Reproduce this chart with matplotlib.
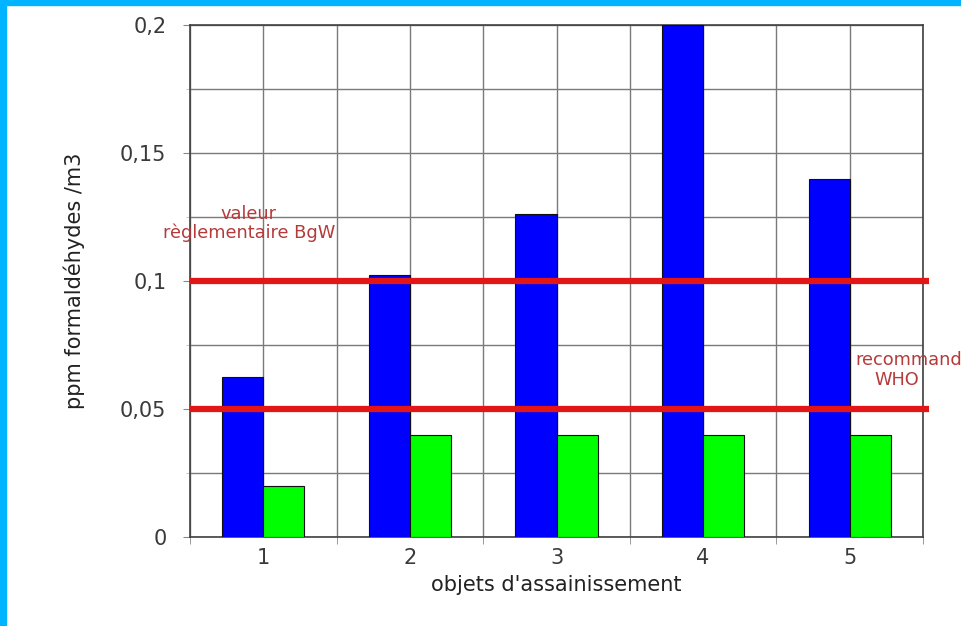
from matplotlib import pyplot as plt
from matplotlib.ticker import FuncFormatter, MultipleLocator
import numpy as np

# Data
objects = [1, 2, 3, 4, 5]
measured = [0.0625, 0.1025, 0.126, 0.2, 0.14]
after = [0.02, 0.04, 0.04, 0.04, 0.04]
limit_bgw = 0.1
limit_who = 0.05

W, H = 961, 626
fig = plt.figure(figsize=(W / 100, H / 100), dpi=100)
fig.patch.set_facecolor("white")

# Blue frame on the top and left edge
fig.patches.append(plt.Rectangle((0, 1 - 5 / H), 1, 5 / H, transform=fig.transFigure,
                                 color="#00b4ff", zorder=0))
fig.patches.append(plt.Rectangle((0, 0), 6 / W, 1, transform=fig.transFigure,
                                 color="#00b4ff", zorder=0))

ax = fig.add_axes([190 / W, (H - 537) / H, (923 - 190) / W, (537 - 25) / H])

x = np.array(objects)
bw = 0.28
ax.bar(x - bw / 2, measured, width=bw, color="#0000ff", edgecolor="#101010",
       linewidth=0.8, zorder=3)
ax.bar(x + bw / 2, after, width=bw, color="#00ff00", edgecolor="#101010",
       linewidth=0.8, zorder=3)

# Limit lines (run a bit past the right spine)
for lv in (limit_bgw, limit_who):
    ax.plot([0.5, 5.54], [lv, lv], color="#e31515", linewidth=4.5, zorder=4,
            clip_on=False, solid_capstyle="butt")

red_txt = "#b53a3a"
ax.text(0.9, 0.1225, "valeur\nrèglementaire BgW", color=red_txt, fontsize=12.8,
        ha="center", va="center", linespacing=1.05, zorder=5)
ax.text(5.036, 0.0691, "recommand", color=red_txt, fontsize=12.8, ha="left",
        va="center", clip_on=False, zorder=5)
ax.text(5.17, 0.0613, "WHO", color=red_txt, fontsize=12.8, ha="left",
        va="center", clip_on=False, zorder=5)

# Axes and grid
ax.set_xlim(0.5, 5.5)
ax.set_ylim(0, 0.2)
ax.set_xticks(objects)
ax.xaxis.set_minor_locator(MultipleLocator(1, offset=0.5))
ax.yaxis.set_major_locator(MultipleLocator(0.05))
ax.yaxis.set_minor_locator(MultipleLocator(0.025))
ax.yaxis.set_major_formatter(FuncFormatter(lambda v, p: ("%g" % round(v, 3)).replace(".", ",")))
ax.grid(which="both", color="#7a7a7a", linewidth=1.0, zorder=0)
ax.set_axisbelow(True)
ax.tick_params(axis="x", which="major", length=0, pad=8, labelsize=15, labelcolor="#3a3a3a")
ax.tick_params(axis="x", which="minor", length=5, color="#888888")
ax.tick_params(axis="y", which="major", length=5, pad=12, labelsize=15,
               labelcolor="#3a3a3a", color="#888888")
ax.tick_params(axis="y", which="minor", length=3, color="#bbbbbb")
for s in ax.spines.values():
    s.set_color("#404040")
    s.set_linewidth(1.2)

ax.set_xlabel("objets d'assainissement", fontsize=15, color="#222222", labelpad=5)
ax.set_ylabel("ppm formaldéhydes /m3", fontsize=15, color="#222222", labelpad=25)

plt.savefig("out.png", dpi=100)
